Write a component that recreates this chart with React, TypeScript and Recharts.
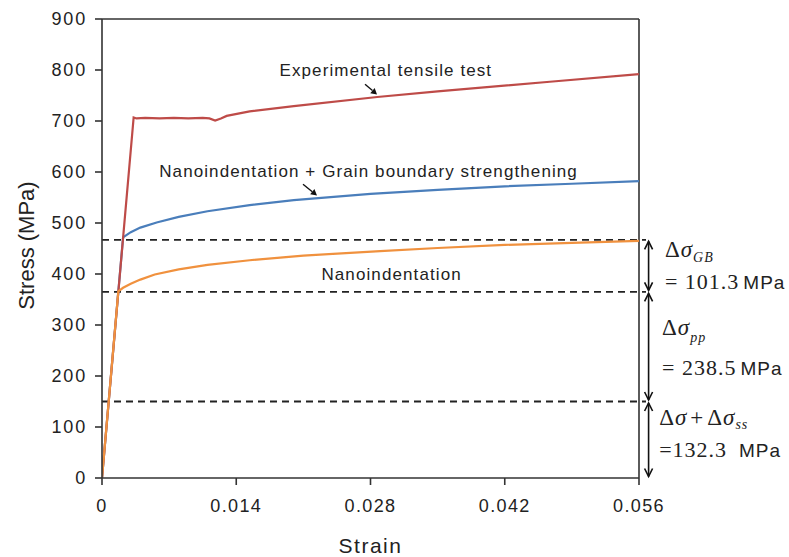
import React from 'react';
import { LineChart, Line, XAxis, YAxis, ReferenceLine, ReferenceDot } from 'recharts';

// ---- data ----
const expStrain = [0, 0.0033, 0.0036, 0.0045, 0.006, 0.0075, 0.009, 0.0105, 0.0112, 0.0118, 0.0124, 0.013, 0.0154, 0.02, 0.0287, 0.035, 0.0467, 0.056];
const expStress = [0, 707, 705, 706, 705, 706, 705, 706, 705, 701, 705, 710, 719, 729, 747, 758, 777, 792];

const gbStrain = [0, 0.0022, 0.003, 0.004, 0.0057, 0.008, 0.011, 0.0154, 0.02, 0.028, 0.035, 0.042, 0.049, 0.056];
const gbStress = [0, 472, 482, 491, 501, 512, 523, 535, 545, 557, 565, 572, 577, 582];

const niStrain = [0, 0.0017, 0.0022, 0.003, 0.004, 0.0055, 0.008, 0.011, 0.0154, 0.021, 0.029, 0.035, 0.042, 0.049, 0.056];
const niStress = [0, 366, 373, 381, 389, 399, 409, 418, 427, 436, 445, 451, 457, 461, 465];

const xTicks = [0, 0.014, 0.028, 0.042, 0.056];
const xTickLabels = ['0', '0.014', '0.028', '0.042', '0.056'];
const yTicks = [0, 100, 200, 300, 400, 500, 600, 700, 800, 900];

const dashLevels = [467, 365, 150];
const bracketTop = [467, 365, 150];
const bracketBottom = [365, 150, 0];
const bracketX = 0.057;
const bracketValues = ['= 101.3', '= 238.5', '=132.3'];
const bracketSubs = ['GB', 'pp', 'ss'];
const annoX = [0.0587, 0.0584, 0.0581];
const annoLine1Y = [434, 281, 104];
const annoLine2Y = [371, 202, 41];

const curveLabels = ['Experimental tensile test', 'Nanoindentation + Grain boundary strengthening', 'Nanoindentation'];
const curveLabelX = [0.0296, 0.0278, 0.0302];
const curveLabelY = [788, 591, 389];

const pointerStart = [
  { x: 0.02743, y: 772 },
  { x: 0.02096, y: 576 },
];
const pointerEnd = [
  { x: 0.02868, y: 752 },
  { x: 0.02242, y: 554 },
];

const toPoints = (xs: number[], ys: number[]) => xs.map((x, i) => ({ strain: x, stress: ys[i] }));
const expData = toPoints(expStrain, expStress);
const gbData = toPoints(gbStrain, gbStress);
const niData = toPoints(niStrain, niStress);

const SANS = '"Liberation Sans", Arial, sans-serif';
const SERIF = '"Liberation Serif", "Times New Roman", serif';
const TEXT = '#222';
const AXIS = '#333';

const XTick = (props: any) => {
  const { x, y, payload } = props;
  const i = xTicks.indexOf(payload.value);
  return (
    <text x={x} y={y} dy="0.71em" textAnchor="middle" fontFamily={SANS} fontSize={18} fill={TEXT} style={{ letterSpacing: 1.4 }}>
      {i >= 0 ? xTickLabels[i] : payload.value}
    </text>
  );
};

const YTick = (props: any) => {
  const { x, y, payload } = props;
  return (
    <text x={x} y={y} dy="0.36em" textAnchor="end" fontFamily={SANS} fontSize={18} fill={TEXT} style={{ letterSpacing: 1.8 }}>
      {payload.value}
    </text>
  );
};

const dashedShape = (p: any) => (
  <line x1={p.x1} y1={p.y1} x2={p.x2 + 7} y2={p.y2} stroke="#222" strokeWidth={1.8} strokeDasharray="7 5" />
);

const doubleArrowShape = (p: any) => {
  const x = p.x1;
  const top = Math.min(p.y1, p.y2) + 1.5;
  const bot = Math.max(p.y1, p.y2) - 1.5;
  return (
    <g stroke="#111" strokeWidth={1.6} fill="none">
      <line x1={x} y1={top} x2={x} y2={bot} />
      <polyline points={`${x - 4},${top + 8} ${x},${top} ${x + 4},${top + 8}`} />
      <polyline points={`${x - 4},${bot - 8} ${x},${bot} ${x + 4},${bot - 8}`} />
    </g>
  );
};

const pointerShape = (p: any) => {
  const dx = p.x2 - p.x1;
  const dy = p.y2 - p.y1;
  const len = Math.sqrt(dx * dx + dy * dy);
  const ux = dx / len;
  const uy = dy / len;
  const hx = p.x2 - ux * 6;
  const hy = p.y2 - uy * 6;
  return (
    <g>
      <line x1={p.x1} y1={p.y1} x2={hx} y2={hy} stroke="#111" strokeWidth={1.4} />
      <polygon points={`${p.x2},${p.y2} ${hx - uy * 3.4},${hy + ux * 3.4} ${hx + uy * 3.4},${hy - ux * 3.4}`} fill="#111" />
    </g>
  );
};

const makeLabelShape = (text: string) => (p: any) => (
  <text x={p.cx} y={p.cy} textAnchor="middle" fontFamily={SANS} fontSize={17} fill={TEXT} style={{ letterSpacing: 1.1 }}>
    {text}
  </text>
);

const makeAnnoLine1 = (i: number) => (p: any) => (
  <text x={p.cx} y={p.cy} fontFamily={SERIF} fill={TEXT} fontSize={23} style={{ letterSpacing: 1 }}>
    {i === 2 ? (
      <>
        <tspan>Δ</tspan>
        <tspan fontStyle="italic">σ</tspan>
        <tspan dx={3}>+</tspan>
        <tspan dx={3}>Δ</tspan>
        <tspan fontStyle="italic">σ</tspan>
        <tspan fontStyle="italic" fontSize={14} dy={4}>{bracketSubs[i]}</tspan>
      </>
    ) : (
      <>
        <tspan>Δ</tspan>
        <tspan fontStyle="italic">σ</tspan>
        <tspan fontStyle="italic" fontSize={14} dy={i === 0 ? 5 : 7}>{bracketSubs[i]}</tspan>
      </>
    )}
  </text>
);

const makeAnnoLine2 = (i: number) => (p: any) => (
  <text x={p.cx} y={p.cy} fill={TEXT}>
    <tspan fontFamily={SERIF} fontSize={22} style={{ letterSpacing: 1 }}>{bracketValues[i]}</tspan>
    <tspan fontFamily={SANS} fontSize={19} dx={i === 2 ? 12 : 4} style={{ letterSpacing: 1 }}>MPa</tspan>
  </text>
);

const yLabel = (props: any) => {
  const vb = props.viewBox;
  const cx = vb.x + 34;
  const cy = vb.y + vb.height / 2 - 3;
  return (
    <text x={cx} y={cy} transform={`rotate(-90, ${cx}, ${cy})`} textAnchor="middle" fontFamily={SANS} fontSize={22} fill={TEXT}>
      Stress (MPa)
    </text>
  );
};

const xLabel = (props: any) => {
  const vb = props.viewBox;
  return (
    <text x={vb.x + vb.width / 2} y={vb.y + 75} textAnchor="middle" fontFamily={SANS} fontSize={21} fill={TEXT} style={{ letterSpacing: 1.5 }}>
      Strain
    </text>
  );
};

export default function App() {
  return (
    <div style={{ position: 'absolute', left: 0, top: 0, width: 789, height: 557, background: '#fff' }}>
      <LineChart width={789} height={557} margin={{ top: 19, right: 150, bottom: 0, left: 0 }}>
        <XAxis
          type="number"
          dataKey="strain"
          domain={[0, 0.056]}
          ticks={xTicks}
          allowDataOverflow
          height={79}
          tickSize={7}
          tickMargin={14}
          tick={<XTick />}
          stroke={AXIS}
          strokeWidth={1.6}
          tickLine={{ stroke: AXIS, strokeWidth: 1.6 }}
          label={{ content: xLabel }}
        />
        <YAxis
          type="number"
          dataKey="stress"
          domain={[0, 900]}
          ticks={yTicks}
          allowDataOverflow
          width={102}
          tickSize={7}
          tickMargin={8}
          tick={<YTick />}
          stroke={AXIS}
          strokeWidth={1.6}
          tickLine={{ stroke: AXIS, strokeWidth: 1.6 }}
          label={{ content: yLabel }}
        />
        <ReferenceLine y={900} stroke={AXIS} strokeWidth={1.6} />
        <ReferenceLine x={0.056} stroke={AXIS} strokeWidth={1.6} />
        {dashLevels.map((v) => (
          <ReferenceLine key={'d' + v} y={v} shape={dashedShape} />
        ))}
        <Line data={gbData} dataKey="stress" type="linear" stroke="#4A7EBB" strokeWidth={2.2} dot={false} isAnimationActive={false} />
        <Line data={expData} dataKey="stress" type="linear" stroke="#BE4B48" strokeWidth={2.2} dot={false} isAnimationActive={false} />
        <Line data={niData} dataKey="stress" type="linear" stroke="#F0913E" strokeWidth={2.2} dot={false} isAnimationActive={false} />
        {bracketTop.map((t, i) => (
          <ReferenceLine
            key={'b' + i}
            ifOverflow="visible"
            segment={[
              { x: bracketX, y: t },
              { x: bracketX, y: bracketBottom[i] },
            ]}
            shape={doubleArrowShape}
          />
        ))}
        {pointerStart.map((s, i) => (
          <ReferenceLine key={'p' + i} ifOverflow="visible" segment={[s, pointerEnd[i]]} shape={pointerShape} />
        ))}
        {curveLabels.map((t, i) => (
          <ReferenceDot key={'l' + i} x={curveLabelX[i]} y={curveLabelY[i]} r={0} ifOverflow="visible" shape={makeLabelShape(t)} />
        ))}
        {annoX.map((x, i) => (
          <ReferenceDot key={'a1' + i} x={x} y={annoLine1Y[i]} r={0} ifOverflow="visible" shape={makeAnnoLine1(i)} />
        ))}
        {annoX.map((x, i) => (
          <ReferenceDot key={'a2' + i} x={x} y={annoLine2Y[i]} r={0} ifOverflow="visible" shape={makeAnnoLine2(i)} />
        ))}
      </LineChart>
    </div>
  );
}
